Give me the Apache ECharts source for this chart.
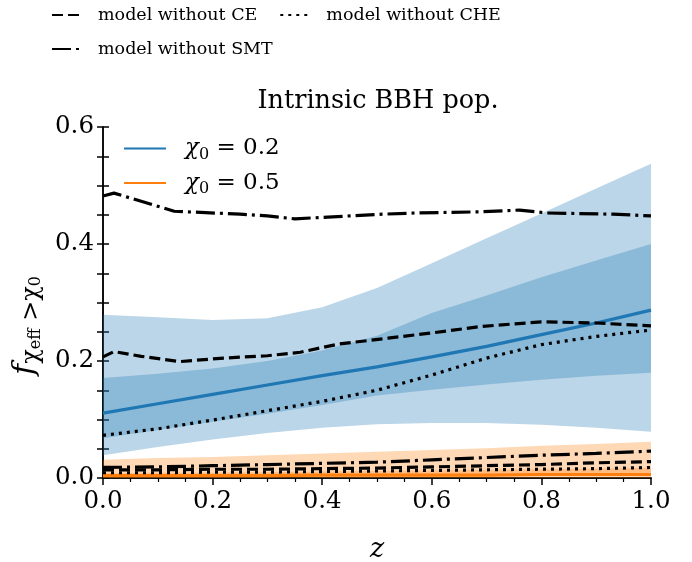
<!DOCTYPE html>
<html>
<head>
<meta charset="utf-8">
<script src="https://cdn.jsdelivr.net/npm/echarts@6/dist/echarts.min.js"></script>
<style>html,body{margin:0;padding:0;background:#fff;}#c{width:692px;height:562px;}</style>
</head>
<body>
<div id="c"></div>
<script>
// ---- data ----
const zBand = [0, 0.1, 0.2, 0.3, 0.4, 0.5, 0.6, 0.7, 0.8, 0.9, 1.0];
// chi0 = 0.2
const blueMedian   = [0.111, 0.127, 0.143, 0.159, 0.175, 0.190, 0.207, 0.225, 0.245, 0.265, 0.287];
const blue90Upper  = [0.279, 0.275, 0.270, 0.273, 0.292, 0.325, 0.367, 0.410, 0.452, 0.495, 0.537];
const blue90Lower  = [0.039, 0.053, 0.066, 0.077, 0.086, 0.092, 0.094, 0.094, 0.091, 0.086, 0.079];
const blue50Upper  = [0.171, 0.178, 0.187, 0.200, 0.218, 0.243, 0.282, 0.312, 0.343, 0.372, 0.400];
const blue50Lower  = [0.068, 0.082, 0.096, 0.110, 0.125, 0.141, 0.151, 0.160, 0.168, 0.175, 0.180];
// chi0 = 0.5
const orangeMedian  = [0.004, 0.004, 0.004, 0.004, 0.005, 0.005, 0.005, 0.005, 0.006, 0.006, 0.006];
const orange90Upper = [0.031, 0.034, 0.036, 0.039, 0.042, 0.045, 0.048, 0.051, 0.055, 0.058, 0.062];
const orange90Lower = [0.000, 0.000, 0.000, 0.000, 0.000, 0.000, 0.000, 0.000, 0.000, 0.000, 0.000];
const orange50Upper = [0.008, 0.009, 0.009, 0.010, 0.011, 0.012, 0.013, 0.014, 0.015, 0.016, 0.017];
const orange50Lower = [0.002, 0.002, 0.002, 0.002, 0.003, 0.003, 0.003, 0.003, 0.004, 0.004, 0.004];

const zSMT   = [0, 0.02, 0.13, 0.25, 0.30, 0.35, 0.41, 0.51, 0.57, 0.69, 0.76, 0.81, 0.93, 1.0];
const smt02  = [0.482, 0.487, 0.456, 0.451, 0.448, 0.443, 0.446, 0.451, 0.453, 0.455, 0.458, 0.453, 0.451, 0.448];
const zCE    = [0, 0.02, 0.07, 0.14, 0.22, 0.30, 0.36, 0.43, 0.52, 0.60, 0.69, 0.80, 0.90, 1.0];
const ce02   = [0.207, 0.216, 0.208, 0.199, 0.205, 0.209, 0.215, 0.229, 0.239, 0.248, 0.259, 0.267, 0.265, 0.260];
const zLine  = [0, 0.1, 0.2, 0.3, 0.4, 0.5, 0.6, 0.7, 0.8, 0.9, 1.0];
const che02  = [0.073, 0.084, 0.099, 0.115, 0.131, 0.150, 0.176, 0.205, 0.228, 0.242, 0.253];
const smt05  = [0.018, 0.019, 0.021, 0.023, 0.025, 0.027, 0.031, 0.035, 0.039, 0.042, 0.046];
const ce05   = [0.014, 0.014, 0.015, 0.015, 0.016, 0.017, 0.019, 0.021, 0.023, 0.026, 0.028];
const che05  = [0.009, 0.009, 0.010, 0.010, 0.011, 0.012, 0.013, 0.014, 0.015, 0.016, 0.018];

const xTickLabels = ['0.0', '0.2', '0.4', '0.6', '0.8', '1.0'];
const yTickLabels = ['0.0', '0.2', '0.4', '0.6'];

// ---- helpers ----
const pairs = (xs, ys) => xs.map((x, i) => [x, ys[i]]);
const BLUE = '#1f77b4', ORANGE = '#ff7f0e';
const FONT = 'DejaVu Serif';
const dashCE = [11, 5], dashCHE = [3, 5], dashSMT = [19, 5, 3, 5];
const LW = 3.2;

function band(xs, lo, up, fill) {
  return {
    type: 'custom', silent: true, z: 1, clip: true,
    data: xs.map((x, i) => [x, lo[i], up[i]]),
    encode: { x: 0, y: [1, 2] },
    renderItem: function (params, api) {
      if (params.dataIndex !== 0) return null;
      const pts = [];
      for (let i = 0; i < xs.length; i++) pts.push(api.coord([xs[i], up[i]]));
      for (let i = xs.length - 1; i >= 0; i--) pts.push(api.coord([xs[i], lo[i]]));
      return { type: 'polygon', shape: { points: pts }, style: { fill: fill } };
    }
  };
}
function line(name, xs, ys, color, type, z) {
  return { type: 'line', name: name, data: pairs(xs, ys), symbol: 'none', smooth: false,
    lineStyle: { color: color, width: LW, type: type, cap: 'butt' }, itemStyle: { color: color }, z: z };
}

const series = [
  band(zBand, blue90Lower, blue90Upper, 'rgba(31,119,180,0.3)'),
  band(zBand, blue50Lower, blue50Upper, 'rgba(31,119,180,0.3)'),
  band(zBand, orange90Lower, orange90Upper, 'rgba(255,127,14,0.3)'),
  band(zBand, orange50Lower, orange50Upper, 'rgba(255,127,14,0.3)'),
  line('chi02', zBand, blueMedian, BLUE, 'solid', 3),
  line('chi05', zBand, orangeMedian, ORANGE, 'solid', 3),
  line('model without CE', zCE, ce02, '#000', dashCE, 4),
  line('model without CHE', zLine, che02, '#000', dashCHE, 4),
  line('model without SMT', zSMT, smt02, '#000', dashSMT, 4),
  line('model without CE', zLine, ce05, '#000', dashCE, 4),
  line('model without CHE', zLine, che05, '#000', dashCHE, 4),
  line('model without SMT', zLine, smt05, '#000', dashSMT, 4)
];

const chart = echarts.init(document.getElementById('c'), null, { renderer: 'canvas' });
const axisLine = { show: true, lineStyle: { color: '#000', width: 1.5 } };
const legendText = { fontFamily: FONT, fontSize: 17.5, color: '#000', padding: [0, 0, 0, 9] };
const yLabelFmt = v => { const k = Math.round(v * 20); return k % 4 === 0 ? yTickLabels[k / 4] : ''; };
chart.setOption({
  animation: false,
  backgroundColor: '#fff',
  title: { text: 'Intrinsic BBH pop.', left: 373, top: 83, textAlign: 'center',
    textStyle: { fontFamily: FONT, fontSize: 25.5, fontWeight: 'normal', color: '#000' } },
  grid: { left: 103, right: 41, top: 127, bottom: 84, outerBoundsMode: 'none', containLabel: false },
  legend: [
    { data: ['model without CE', 'model without CHE'], left: 46, top: 1, itemWidth: 32, itemHeight: 14,
      itemGap: 22, textStyle: legendText, selectedMode: false, itemStyle: { opacity: 0 } },
    { data: ['model without SMT'], left: 46, top: 35, itemWidth: 32, itemHeight: 14,
      textStyle: legendText, selectedMode: false, itemStyle: { opacity: 0 } },
    { data: ['chi02', 'chi05'], orient: 'vertical', left: 118, top: 132, itemWidth: 42, itemHeight: 14,
      itemGap: 9, selectedMode: false, itemStyle: { opacity: 0 },
      formatter: n => n === 'chi02' ? '{i|χ}{s|0}{t| = 0.2}' : '{i|χ}{s|0}{t| = 0.5}',
      textStyle: { fontFamily: FONT, fontSize: 23, color: '#000', padding: [0, 0, 0, 14],
        rich: { i: { fontFamily: FONT, fontStyle: 'italic', fontSize: 23 },
                s: { fontFamily: FONT, fontSize: 16, padding: [12, 0, 0, 0] },
                t: { fontFamily: FONT, fontSize: 23 } } } }
  ],
  xAxis: [
    { type: 'value', min: 0, max: 1, interval: 0.2, position: 'bottom',
      name: 'z', nameLocation: 'middle', nameGap: 58,
      nameTextStyle: { fontFamily: FONT, fontStyle: 'italic', fontSize: 27, color: '#000' },
      axisLine: axisLine, axisTick: { show: true, inside: false, length: 7, lineStyle: { color: '#000', width: 1.5 } },
      minorTick: { show: true, splitNumber: 4, length: 4, lineStyle: { color: '#000', width: 1.2 } },
      splitLine: { show: false },
      axisLabel: { fontFamily: FONT, fontSize: 24.5, color: '#000', margin: 11,
        formatter: v => xTickLabels[Math.round(v * 5)] } },
    { type: 'value', min: 0, max: 1, position: 'top', axisLine: axisLine, axisTick: { show: false },
      axisLabel: { show: false }, splitLine: { show: false } }
  ],
  yAxis: [
    { type: 'value', min: 0, max: 0.6, interval: 0.05, position: 'left',
      name: '{i|f}{s|χ}{ss|eff}{s| >χ}{ss|0}', nameLocation: 'middle', nameGap: 56, nameRotate: 90,
      nameTextStyle: { fontFamily: FONT, fontSize: 25, color: '#000', padding: [0, 46, 0, 0],
        rich: { i: { fontFamily: FONT, fontStyle: 'italic', fontSize: 30 },
                s: { fontFamily: FONT, fontSize: 24, padding: [14, 0, 0, 0] },
                ss: { fontFamily: FONT, fontSize: 16, padding: [22, 0, 0, 0] } } },
      axisLine: axisLine, axisTick: { show: true, inside: true, length: 6, lineStyle: { color: '#000', width: 1.5 } },
      splitLine: { show: false },
      axisLabel: { fontFamily: FONT, fontSize: 24.5, color: '#000', margin: 9, formatter: yLabelFmt } },
    { type: 'value', min: 0, max: 0.6, interval: 0.05, position: 'right',
      axisLine: axisLine, axisTick: { show: true, inside: true, length: 6, lineStyle: { color: '#000', width: 1.5 } },
      axisLabel: { show: false }, splitLine: { show: false } }
  ],
  series: series
});
</script>
</body>
</html>
